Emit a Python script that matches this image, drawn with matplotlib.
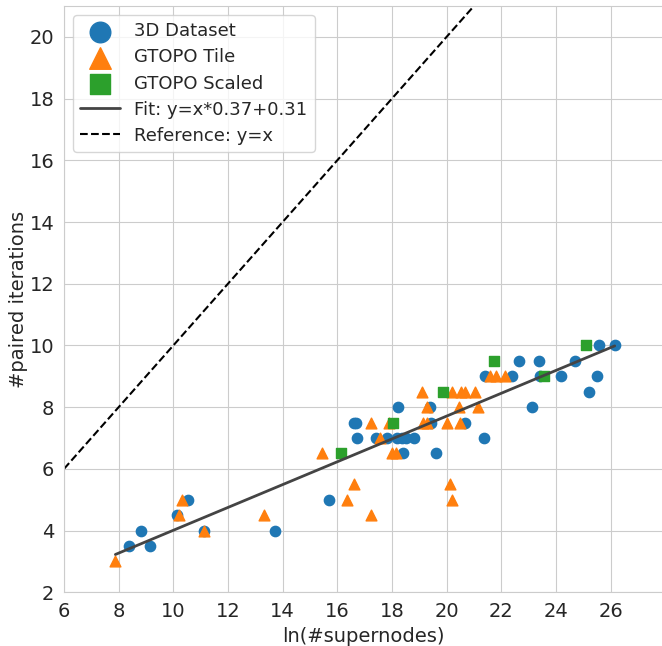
import numpy as np
import matplotlib
matplotlib.use("Agg")
import matplotlib.pyplot as plt
import seaborn as sns

# === data ===
ds3d_x = [8.39, 8.82, 9.15, 10.12, 10.54, 11.11, 13.71, 15.71,
          16.6, 16.7, 16.73, 17.42, 17.83, 18.2, 18.35, 18.5, 18.81,
          18.23, 18.41, 19.4, 19.43, 19.6, 20.67, 21.38,
          21.4, 22.41, 23.42, 24.2, 25.5, 22.65, 23.38, 24.69,
          23.12, 25.21, 25.57, 26.15]
ds3d_y = [3.5, 4.0, 3.5, 4.5, 5.0, 4.0, 4.0, 5.0,
          7.5, 7.5, 7.0, 7.0, 7.0, 7.0, 7.0, 7.0, 7.0,
          8.0, 6.5, 8.0, 7.5, 6.5, 7.5, 7.0,
          9.0, 9.0, 9.0, 9.0, 9.0, 9.5, 9.5, 9.5,
          8.0, 8.5, 10.0, 10.0]

tile_x = [7.88, 11.11, 10.2, 13.32, 17.23, 10.32, 16.35, 20.2,
          16.61, 20.14, 15.45, 17.99, 18.15, 17.58,
          17.23, 17.9, 19.15, 19.27, 20.03, 20.49,
          19.29, 20.45, 21.16, 19.11, 20.18, 20.51, 20.67, 21.04,
          21.57, 21.82, 22.12]
tile_y = [3.0, 4.0, 4.5, 4.5, 4.5, 5.0, 5.0, 5.0,
          5.5, 5.5, 6.5, 6.5, 6.5, 7.0,
          7.5, 7.5, 7.5, 7.5, 7.5, 7.5,
          8.0, 8.0, 8.0, 8.5, 8.5, 8.5, 8.5, 8.5,
          9.0, 9.0, 9.0]

scaled_x = [16.12, 18.02, 19.88, 21.73, 23.57, 25.1]
scaled_y = [6.5, 7.5, 8.5, 9.5, 9.0, 10.0]

fit_a = 0.37
fit_b = 0.31

sns.set_style("whitegrid")
plt.rcParams["font.family"] = ["DejaVu Sans"]
plt.rcParams["font.size"] = 14

fig = plt.figure(figsize=(6.62, 6.46), dpi=100)
ax = fig.add_axes([64 / 662, (646 - 592.3) / 646, 1 - 64 / 662, (592.3 - 6) / 646])

ax.scatter(ds3d_x, ds3d_y, s=55, marker="o", color="#1f77b4", label="3D Dataset", zorder=3)
ax.scatter(tile_x, tile_y, s=60, marker="^", color="#ff7f0e", label="GTOPO Tile", zorder=3)
ax.scatter(scaled_x, scaled_y, s=50, marker="s", color="#2ca02c", label="GTOPO Scaled", zorder=3)

# fit line over the data range
all_x = np.array(ds3d_x + tile_x + scaled_x)
fx = np.array([all_x.min(), all_x.max()])
ax.plot(fx, fx * fit_a + fit_b, color="#444444", lw=2,
        label=f"Fit: y=x*{fit_a}+{fit_b}", zorder=4)

rx = np.array([6, 28])
ax.plot(rx, rx, "k--", lw=1.5, label="Reference: y=x", zorder=2)

ax.set_xlim(6, 6 + (662 - 64) / 27.33)
ax.set_ylim(2, 21)
ax.set_xticks(np.arange(6, 27, 2))
ax.set_yticks(np.arange(2, 21, 2))
ax.spines["right"].set_visible(False)
ax.tick_params(labelsize=14, colors="#262626")
ax.set_xlabel("ln(#supernodes)", fontsize=14, color="#262626")
ax.set_ylabel("#paired iterations", fontsize=14, color="#262626", labelpad=1)

leg = ax.legend(loc="upper left", fontsize=13, markerscale=2, frameon=True,
                handlelength=2.2, labelspacing=0.45)

fig.savefig("out.png", dpi=100)
